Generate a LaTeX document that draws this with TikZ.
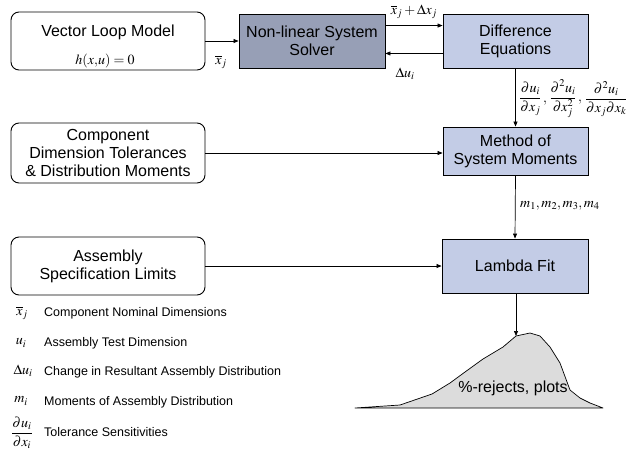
\documentclass[tikz,border=0pt]{standalone}
\usepackage{amsmath}
\usepackage{mathptmx}
\usepackage{fontspec}
\setmainfont{Liberation Sans}
\usetikzlibrary{arrows.meta,calc}
\definecolor{darkbox}{HTML}{979FB6}
\definecolor{lightbox}{HTML}{C3CCE6}
\definecolor{curvefill}{HTML}{DCDCDC}
\begin{document}
\begin{tikzpicture}[x=1pt,y=-1pt,
  boxtext/.style={font=\fontsize{16}{18}\selectfont, align=center, inner sep=0pt},
  inbox/.style={boxtext, draw=black, line width=0.9pt, rounded corners=8pt, fill=white},
  procbox/.style={boxtext, draw=black, line width=0.9pt, fill=lightbox},
  solverbox/.style={boxtext, draw=black, line width=0.9pt, fill=darkbox},
  arr/.style={draw=black, line width=0.7pt, -{Triangle[length=5pt,width=4pt]}},
  mlabel/.style={inner sep=0pt, font=\fontsize{14}{16}\selectfont},
  legsym/.style={inner sep=0pt, font=\fontsize{14}{16}\selectfont},
  legtext/.style={inner sep=0pt, anchor=west, font=\fontsize{12.5}{14}\selectfont}]
\useasboundingbox (0,0) rectangle (626,453);

% nodes
\node[inbox, minimum width=194pt, minimum height=58pt] (vl) at (108,41) {};
\node[boxtext] (vltxt) at (108,32) {Vector Loop Model};
\node[mlabel] (vleq) at (105,61) {$h(x{,}u)=0$};

\node[solverbox, minimum width=146pt, minimum height=54pt] (solver) at (312,41) {Non-linear System\\Solver};
\node[procbox, minimum width=145pt, minimum height=54pt] (diff) at (515.5,41) {Difference\\Equations};

\node[inbox, minimum width=194pt, minimum height=60pt] (comp) at (108,153) {Component\\Dimension Tolerances\\\& Distribution Moments};
\node[procbox, minimum width=145pt, minimum height=48pt] (method) at (515.5,151) {Method of\\System Moments};

\node[inbox, minimum width=194pt, minimum height=58pt] (asm) at (108,266) {Assembly\\Specification Limits};
\node[procbox, minimum width=146pt, minimum height=54pt] (lambda) at (515,266) {Lambda Fit};

% curve
\coordinate (peak) at (516,336);
\draw[fill=curvefill, line width=0.7pt, line join=round]
  (355,408) -- (400,405) -- (432,394) -- (450,383) -- (465,372) -- (483,359)
  -- (503,347) -- (peak) -- (530,333) -- (540,336) -- (550,347) -- (560,363)
  -- (570,390) -- (580,398) -- (590,403) -- (603,408) -- cycle;
\node[boxtext] (rej) at (513,388) {\%-rejects, plots};

% connectors
\draw[arr] (vl.east) -- (solver.west);
\node[mlabel] (lx) at (221,62) {$\overline{x}_j$};
\draw[arr] ([yshift=-12pt]solver.north east) -- ([yshift=-12pt]diff.north west);
\node[mlabel] (lxd) at (414,12) {$\overline{x}_j+\Delta x_j$};
\draw[arr] ([yshift=15pt]diff.south west) -- ([yshift=15pt]solver.south east);
\node[mlabel] (ldu) at (405,74) {$\Delta u_i$};

\draw[arr] (diff.south) -- (method.north);
\node[mlabel, anchor=west] (lfr1) at (519,99) {$\dfrac{\partial u_i}{\partial x_j}\,,$};
\node[mlabel, anchor=west] (lfr2) at ([xshift=2pt]lfr1.east) {$\dfrac{\partial^2 u_i}{\partial x_j^2}\,,$};
\node[mlabel, anchor=west] (lfr3) at ([xshift=2.5pt]lfr2.east) {$\dfrac{\partial^2 u_i}{\partial x_j\partial x_k}$};

\draw[arr] (comp.east) -- (method.west |- comp.east);
\draw[arr] (method.south) -- (lambda.north);
\node[mlabel, anchor=west] (lm) at (520,206) {$m_1,m_2,m_3,m_4$};

\draw[arr] (asm.east) -- (lambda.west);
\draw[arr] (lambda.south -| peak) -- (peak);

% legend
\node[legsym] (s1) at (22,313) {$\overline{x}_j$};
\node[legtext] (t1) at (44,313) {Component Nominal Dimensions};
\node[legsym] (s2) at (21,343) {$u_i$};
\node[legtext] (t2) at (44,343) {Assembly Test Dimension};
\node[legsym] (s3) at (23,371) {$\Delta u_i$};
\node[legtext] (t3) at (44,372) {Change in Resultant Assembly Distribution};
\node[legsym] (s4) at (21,401) {$m_i$};
\node[legtext] (t4) at (44,402) {Moments of Assembly Distribution};
\node[legsym] (s5) at (22,433) {$\dfrac{\partial u_i}{\partial x_i}$};
\node[legtext] (t5) at (44,432) {Tolerance Sensitivities};
\end{tikzpicture}
\end{document}
